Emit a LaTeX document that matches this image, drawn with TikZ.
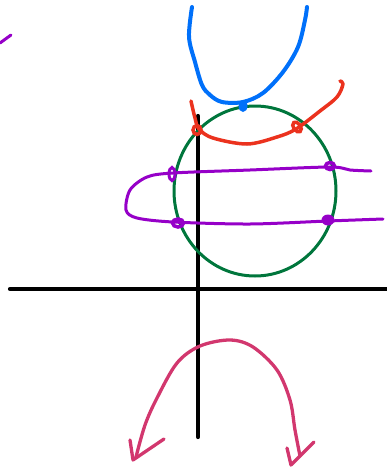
\documentclass[tikz,border=0pt]{standalone}
\usetikzlibrary{calc}
\definecolor{axisblack}{RGB}{0,0,0}
\definecolor{circgreen}{RGB}{0,118,60}
\definecolor{penblue}{RGB}{0,112,250}
\definecolor{penred}{RGB}{235,50,30}
\definecolor{penpurple}{RGB}{150,0,200}
\definecolor{penmagenta}{RGB}{210,55,110}
\tikzset{
  ink/.style={line width=3.3pt,line cap=round,line join=round},
  axisline/.style={ink,draw=axisblack,line width=4.2pt},
  loopmark/.style={draw=#1,line width=3.5pt}
}
\begin{document}
\begin{tikzpicture}[x=1pt,y=-1pt]
\useasboundingbox (0,0) rectangle (387,472);
% axes
\coordinate (vtop) at (198,116);
\coordinate (vbot) at (198,437);
\coordinate (hleft) at (10,289);
\coordinate (hright) at (387,289);
\draw[axisline] (vtop) -- (vbot);
\draw[axisline] (hleft) -- (hright);
% green circle
\coordinate (cc) at (255,191);
\draw[ink,draw=circgreen,line width=3pt] (cc) ellipse [x radius=81,y radius=85];
% blue curve
\draw[ink,draw=penblue,line width=4pt] plot[smooth,tension=0.55] coordinates
 {(192,7) (189,37) (195,62) (202,85) (210,95) (222,102) (243,102) (263,93) (283,72) (298,47) (305,20) (307,7)};
\fill[penblue] (243,106) ellipse [x radius=4.5,y radius=6];
% red curve
\draw[ink,draw=penred,line width=3.5pt] plot[smooth,tension=0.55] coordinates
 {(191,101) (195,118) (199,129) (213,138) (247,144) (277,137) (296,129) (320,111) (337,97) (343,84) (340,81)};
\draw[loopmark=penred] (197,130) ellipse [x radius=4,y radius=4.5];
\draw[loopmark=penred,rotate around={35:(297,127)}] (297,127) ellipse [x radius=3.5,y radius=5.5];
% purple curve
\draw[ink,draw=penpurple,line width=3pt] plot[smooth,tension=0.5] coordinates
 {(371,171) (350,170) (330,167) (250,170) (173,173) (147,177) (130,190) (126,210) (137,218) (173,222) (250,224) (328,221) (383,219)};
\draw[loopmark=penpurple,line width=3pt] (172,174) ellipse [x radius=3,y radius=6.5];
\draw[loopmark=penpurple] (330,166) ellipse [x radius=4.5,y radius=3.5];
\draw[loopmark=penpurple] (178,223) ellipse [x radius=5.5,y radius=4];
\fill[penpurple] (328,220) ellipse [x radius=6.5,y radius=5.5];
% purple stroke top-left
\coordinate (pa) at (0,43);
\coordinate (pb) at (11,35);
\draw[ink,draw=penpurple,line width=3pt] (pa) -- (pb);
% magenta arrow
\draw[ink,draw=penmagenta] plot[smooth,tension=0.55] coordinates
 {(136,457) (145,425) (157,398) (177,363) (200,346) (230,340) (253,347) (277,370) (290,400) (295,430) (300,456)};
\coordinate (ltip) at (133,460);
\coordinate (rtip) at (291,465);
\draw[ink,draw=penmagenta] (130,440) -- (ltip) -- (164,439);
\draw[ink,draw=penmagenta] (287,448) -- (rtip) -- (314,442);
\end{tikzpicture}
\end{document}
